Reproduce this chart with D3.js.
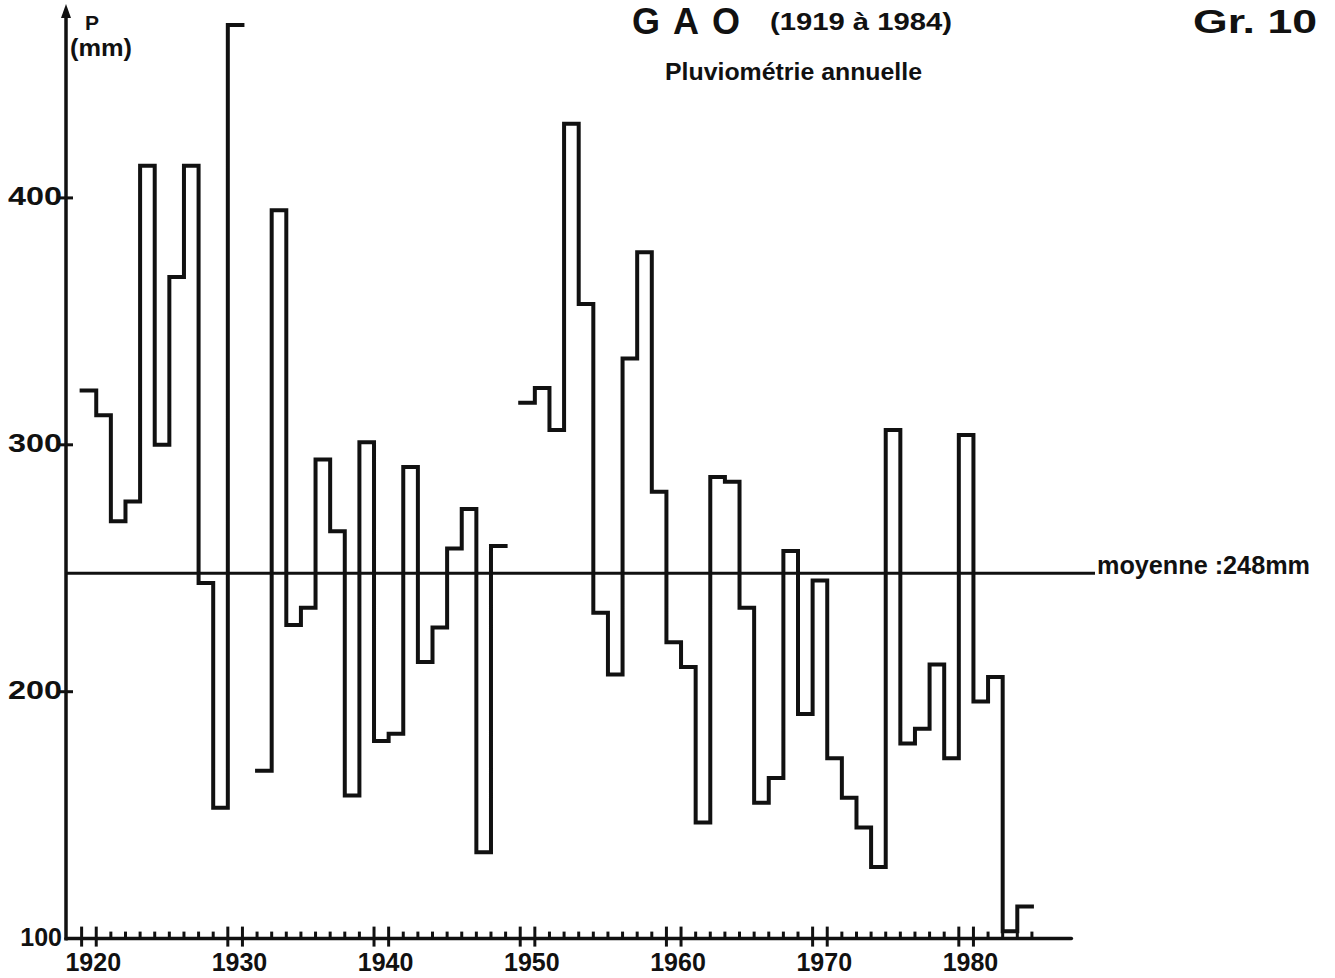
<!DOCTYPE html>
<html>
<head>
<meta charset="utf-8">
<script src="https://cdn.jsdelivr.net/npm/d3@7/dist/d3.min.js"></script>
<style>
  html, body { margin: 0; padding: 0; background: #fff; }
  svg { display: block; }
  text { font-family: "Liberation Sans", Arial, sans-serif; font-weight: bold; fill: #111; }
</style>
</head>
<body>
<svg id="chart" width="1335" height="978"></svg>
<script>
// ---- Data ----
const years = [1919,1920,1921,1922,1923,1924,1925,1926,1927,1928,
               1929,1930,1931,1932,1933,1934,1935,1936,1937,1938,
               1939,1940,1941,1942,1943,1944,1945,1946,1947,1948,
               1949,1950,1951,1952,1953,1954,1955,1956,1957,1958,
               1959,1960,1961,1962,1963,1964,1965,1966,1967,1968,
               1969,1970,1971,1972,1973,1974,1975,1976,1977,1978,
               1979,1980,1981,1982,1983];
const rainfall = [322,312,269,277,413,300,368,413,244,153,
                  470,null,168,395,227,234,294,265,158,301,
                  180,183,291,212,226,258,274,135,259,null,
                  317,323,306,430,357,232,207,335,378,281,
                  220,210,147,287,285,234,155,165,257,191,
                  245,173,157,145,129,306,179,185,211,173,
                  304,196,206,103,113];
const meanValue = 248;
const yTickValues = [100, 200, 300, 400];
const xLabelYears = [1920, 1930, 1940, 1950, 1960, 1970, 1980];
const xMajorTicks = [1919,1920,1929,1930,1939,1940,1949,1950,1959,1960,1969,1970,1979,1980];
const xMinorTicks = [1921,1922,1923,1924,1925,1926,1927,1928,1931,1932,1933,1934,1935,1936,1937,1938,
                     1941,1942,1943,1944,1945,1946,1947,1948,1951,1952,1953,1954,1955,1956,1957,1958,
                     1961,1962,1963,1964,1965,1966,1967,1968,1971,1972,1973,1974,1975,1976,1977,1978,
                     1981,1982,1983,1984];
const titleMain = "G A O";
const titleYears = "(1919 à 1984)";
const subtitle = "Pluviométrie annuelle";
const figLabel = "Gr. 10";
const meanLabel = "moyenne :248mm";

// ---- Scales ----
const svg = d3.select("#chart");
const x = d3.scaleLinear().domain([1918, 1988]).range([67, 1090.4]);
const y = d3.scaleLinear().domain([100, 480]).range([938.6, 0.4]);
const ink = "#111";

// ---- Step line ----
const pts = [];
years.forEach((yr, i) => {
  const v = rainfall[i];
  if (v == null) return;
  pts.push({ t: yr, v: v });
  const next = rainfall[i + 1];
  if (i === years.length - 1 || next == null) {
    pts.push({ t: yr + 1, v: v });
    pts.push(null);
  }
});
const line = d3.line()
  .defined(d => d != null)
  .x(d => x(d.t))
  .y(d => y(d.v))
  .curve(d3.curveStepAfter);
svg.append("path")
  .attr("d", line(pts))
  .attr("fill", "none")
  .attr("stroke", ink)
  .attr("stroke-width", 4)
  .attr("stroke-linejoin", "miter")
  .attr("stroke-linecap", "square");

// ---- Mean line ----
svg.append("line")
  .attr("x1", x(1918) - 1).attr("x2", 1095)
  .attr("y1", y(meanValue)).attr("y2", y(meanValue))
  .attr("stroke", ink).attr("stroke-width", 3);
svg.append("text")
  .attr("x", 1097).attr("y", y(meanValue) + 1)
  .attr("font-size", 25)
  .attr("textLength", 213).attr("lengthAdjust", "spacingAndGlyphs")
  .text(meanLabel);

// ---- X axis ----
const axisY = y(100);
svg.append("line")
  .attr("x1", x(1918) - 1).attr("x2", x(1986.7))
  .attr("y1", axisY).attr("y2", axisY)
  .attr("stroke", ink).attr("stroke-width", 3.5).attr("stroke-linecap", "round");
svg.selectAll("line.minor").data(xMinorTicks).enter().append("line")
  .attr("class", "minor")
  .attr("x1", d => x(d)).attr("x2", d => x(d))
  .attr("y1", axisY).attr("y2", axisY - 7)
  .attr("stroke", ink).attr("stroke-width", 3);
svg.selectAll("line.major").data(xMajorTicks).enter().append("line")
  .attr("class", "major")
  .attr("x1", d => x(d)).attr("x2", d => x(d))
  .attr("y1", axisY + 8).attr("y2", axisY - 12)
  .attr("stroke", ink).attr("stroke-width", 3);
svg.selectAll("text.xl").data(xLabelYears).enter().append("text")
  .attr("class", "xl")
  .attr("x", d => x(d) - 3).attr("y", 971)
  .attr("text-anchor", "middle")
  .attr("font-size", 25)
  .text(d => d);

// ---- Y axis ----
const axisX = x(1918) - 1;
svg.append("line")
  .attr("x1", axisX).attr("x2", axisX)
  .attr("y1", axisY + 2).attr("y2", 14)
  .attr("stroke", ink).attr("stroke-width", 3.5);
svg.append("path")
  .attr("d", d3.line()([[axisX - 5, 18], [axisX, 4], [axisX + 5, 18]]) + "Z")
  .attr("fill", ink);
svg.selectAll("line.yt").data(yTickValues.filter(v => v > 100)).enter().append("line")
  .attr("class", "yt")
  .attr("x1", axisX - 7).attr("x2", axisX + 7)
  .attr("y1", d => y(d)).attr("y2", d => y(d))
  .attr("stroke", ink).attr("stroke-width", 3);
svg.selectAll("text.yl").data(yTickValues).enter().append("text")
  .attr("class", "yl")
  .attr("x", 62).attr("y", d => y(d) + 7)
  .attr("text-anchor", "end")
  .attr("font-size", 25)
  .each(function (d) {
    if (d !== 100) d3.select(this).attr("textLength", 54).attr("lengthAdjust", "spacingAndGlyphs");
  })
  .text(d => d);
svg.append("text").attr("x", 85).attr("y", 30).attr("font-size", 21).text("P");
svg.append("text").attr("x", 70).attr("y", 56).attr("font-size", 24)
  .attr("textLength", 62).attr("lengthAdjust", "spacingAndGlyphs").text("(mm)");

// ---- Titles ----
svg.append("text").attr("x", 632).attr("y", 34).attr("font-size", 36)
  .attr("textLength", 108).attr("lengthAdjust", "spacing").text(titleMain);
svg.append("text").attr("x", 770).attr("y", 30).attr("font-size", 23)
  .attr("textLength", 182).attr("lengthAdjust", "spacingAndGlyphs").text(titleYears);
svg.append("text").attr("x", 665).attr("y", 80).attr("font-size", 24)
  .attr("textLength", 257).attr("lengthAdjust", "spacingAndGlyphs").text(subtitle);
svg.append("text").attr("x", 1193).attr("y", 33).attr("font-size", 34)
  .attr("textLength", 124).attr("lengthAdjust", "spacingAndGlyphs").text(figLabel);
</script>
</body>
</html>
